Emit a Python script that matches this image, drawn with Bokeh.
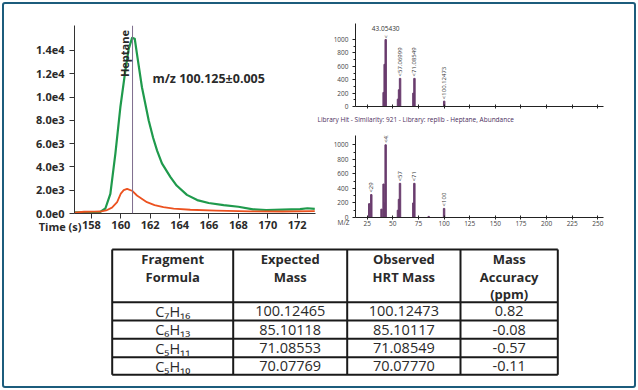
import math
from bokeh.plotting import figure
from bokeh.layouts import column, row
from bokeh.models import Range1d, Span, Label, LabelSet, FixedTicker, ColumnDataSource
from bokeh.core.properties import value
from bokeh.embed import file_html
from bokeh.resources import INLINE

# ---------------- data ----------------
time_green = [156.85, 157.5, 158.2, 158.6, 158.95, 159.29, 159.63, 159.97, 160.31, 160.54,
              160.77, 160.95, 161.1, 161.44, 161.9, 162.2, 162.47, 162.8, 163.37, 163.8,
              164.5, 165.2, 165.98, 167.0, 168.0, 169.0, 169.9, 171.0, 172.2, 172.7, 173.2]
green = [90, 100, 110, 140, 430, 1690, 5120, 9120, 12270, 14130,
         15080, 15000, 13700, 10840, 7980, 6500, 5400, 4300, 3150, 2400,
         1600, 1150, 900, 720, 580, 360, 300, 330, 370, 450, 400]
time_orange = [156.85, 157.5, 158.2, 158.6, 159.0, 159.4, 159.75, 160.0, 160.2, 160.43,
               160.8, 161.1, 161.78, 162.3, 162.9, 163.6, 164.73, 166.5, 168.8, 171.0, 173.2]
orange = [80, 150, 160, 170, 260, 500, 970, 1700, 2000, 2120,
          1930, 1545, 970, 720, 540, 420, 320, 240, 180, 170, 200]
peak_time = 160.8
peak_name = "Heptane"
ion_label = "m/z 100.125\u00b10.005"
time_label = "Time (s)"
chrom_yticks = [0, 2000, 4000, 6000, 8000, 10000, 12000, 14000]
chrom_ylabels = ["0.0e0", "2.0e3", "4.0e3", "6.0e3", "8.0e3", "1.0e4", "1.2e4", "1.4e4"]
chrom_xticks = [158, 160, 162, 164, 166, 168, 170, 172]

mz_hrt = [41.04, 42.05, 43.05, 55.05, 56.06, 57.07, 70.08, 71.09, 100.12]
ab_hrt = [210, 630, 1000, 110, 250, 420, 200, 420, 80]
hrt_label_mz = [57.06999, 71.08549, 100.12473]
hrt_label_ab = [420, 420, 80]
hrt_label_txt = ["<57.06999", "<71.08549", "<100.12473"]
hrt_base_mz = 43.05430
hrt_base_ab = 1000

mz_lib = [27, 29, 39, 41, 42, 43, 55, 56, 57, 70, 71, 85, 100]
ab_lib = [190, 315, 115, 460, 200, 1000, 100, 250, 470, 200, 470, 15, 125]
lib_label_mz = [29, 43, 57, 71, 100]
lib_label_ab = [315, 1000, 470, 470, 125]
lib_title = "Library Hit - Similarity: 921 - Library: replib - Heptane, Abundance"
mz_label = "M/Z"
spec_yticks = [0, 200, 400, 600, 800, 1000]
spec_xticks = [25, 50, 75, 100, 125, 150, 175, 200, 225, 250]

head_lines = [["Fragment", "Formula"], ["Expected", "Mass"], ["Observed", "HRT Mass"],
              ["Mass", "Accuracy", "(ppm)"]]
formulas = ["C\u2087H\u2081\u2086", "C\u2086H\u2081\u2083", "C\u2085H\u2081\u2081", "C\u2085H\u2081\u2080"]
expected = [100.12465, 85.10118, 71.08553, 70.07769]
observed = [100.12473, 85.10117, 71.08549, 70.07770]
accuracy = [0.82, -0.08, -0.57, -0.11]

# ---------------- styles ----------------
FONT = "Open Sans"
GREEN = "#1f9a4c"
ORANGE = "#ec5220"
PURPLE = "#6a3d6e"
TXT = "#2a2a2a"
W, H = 630, 382          # content size inside the frame
TOP_H = 231              # height of the chart row


def clear(p):
    p.outline_line_color = None
    p.grid.visible = False
    p.background_fill_color = None
    p.border_fill_color = None


# ---------------- chromatogram ----------------
chrom = figure(width=312, height=TOP_H, x_range=Range1d(156.85, 173.25), y_range=Range1d(0, 16140),
               output_backend="svg", toolbar_location=None,
               min_border_left=70, min_border_right=1, min_border_top=21, min_border_bottom=22)
clear(chrom)
chrom.line(time_green, green, line_color=GREEN, line_width=2.2, line_join="round")
chrom.line(time_orange, orange, line_color=ORANGE, line_width=1.8, line_join="round")
chrom.add_layout(Span(location=peak_time, dimension="height", line_color="#7d6d8d", line_width=1))
for ax in (chrom.xaxis[0], chrom.yaxis[0]):
    ax.major_label_text_font = FONT
    ax.major_label_text_font_style = "bold"
    ax.major_label_text_font_size = "11px"
    ax.major_label_text_color = TXT
    ax.axis_line_color = "#333333"
    ax.major_tick_line_color = "#333333"
    ax.minor_tick_line_color = None
    ax.major_tick_out = 5
    ax.major_tick_in = 0
chrom.yaxis[0].ticker = FixedTicker(ticks=chrom_yticks)
chrom.yaxis[0].major_label_overrides = dict(zip(chrom_yticks, chrom_ylabels))
chrom.yaxis[0].major_label_standoff = 5
chrom.xaxis[0].ticker = FixedTicker(ticks=chrom_xticks)
chrom.xaxis[0].major_label_standoff = 2
chrom.add_layout(Label(x=peak_time, y=15750, x_offset=-1, text=peak_name, angle=math.pi / 2,
                       text_align="right", text_baseline="bottom", text_font=FONT,
                       text_font_style="bold", text_font_size="11px", text_color=TXT))
chrom.add_layout(Label(x=162.15, y=11590, text=ion_label, text_align="left", text_baseline="middle",
                       text_font=FONT, text_font_style="bold", text_font_size="12.5px", text_color=TXT))


# ---------------- spectra ----------------
def spectrum(height, top, bottom, yend, show_xlabels):
    p = figure(width=318, height=height, x_range=Range1d(13.6, 255.5), y_range=Range1d(0, yend),
               output_backend="svg", toolbar_location=None,
               min_border_left=39, min_border_right=31, min_border_top=top, min_border_bottom=bottom)
    clear(p)
    for ax in (p.xaxis[0], p.yaxis[0]):
        ax.major_label_text_font = FONT
        ax.major_label_text_font_size = "6.5px"
        ax.major_label_text_color = "#444444"
        ax.axis_line_color = "#222222"
        ax.major_tick_line_color = "#222222"
        ax.minor_tick_line_color = "#222222"
        ax.major_tick_out = 3
        ax.major_tick_in = 0
        ax.minor_tick_out = 2
        ax.minor_tick_in = 0
    p.yaxis[0].ticker = FixedTicker(ticks=spec_yticks, minor_ticks=[100, 300, 500, 700, 900])
    p.yaxis[0].major_label_standoff = 4
    p.xaxis[0].ticker = FixedTicker(ticks=spec_xticks)
    p.xaxis[0].major_tick_in = 2
    p.xaxis[0].major_tick_out = 2
    p.xaxis[0].major_label_standoff = 1
    if not show_xlabels:
        p.xaxis[0].major_label_text_color = None
    return p


spec1 = spectrum(110, 19, 8, 1240, False)
spec1.vbar(x=mz_hrt, top=ab_hrt, width=1.4, color=PURPLE)
src1 = ColumnDataSource(dict(x=hrt_label_mz, y=hrt_label_ab, t=hrt_label_txt))
spec1.add_layout(LabelSet(x="x", y="y", text="t", source=src1, angle=math.pi / 2, y_offset=2,
                          text_align="left", text_baseline="middle", text_font=value(FONT),
                          text_font_size="6px", text_color="#333333"))
spec1.add_layout(Label(x=hrt_base_mz, y=hrt_base_ab, y_offset=1, text="<", angle=math.pi / 2,
                       text_align="left", text_baseline="middle", text_font=FONT,
                       text_font_size="6px", text_color="#333333"))
spec1.add_layout(Label(x=hrt_base_mz, y=hrt_base_ab, y_offset=9, text=f"{hrt_base_mz:.5f}",
                       text_align="center", text_baseline="bottom", text_font=FONT,
                       text_font_size="6.5px", text_color="#333333"))

spec2 = spectrum(TOP_H - 110, 21, 18, 1128, True)
spec2.vbar(x=mz_lib, top=ab_lib, width=1.4, color=PURPLE)
src2 = ColumnDataSource(dict(x=lib_label_mz, y=lib_label_ab, t=["<" + str(m) for m in lib_label_mz]))
spec2.add_layout(LabelSet(x="x", y="y", text="t", source=src2, angle=math.pi / 2, y_offset=2,
                          text_align="left", text_baseline="middle", text_font=value(FONT),
                          text_font_size="6px", text_color="#333333"))

# ---------------- free texts layer (pixel space of the whole panel) ----------------
overlay = figure(width=W, height=H, x_range=Range1d(0, W), y_range=Range1d(H, 0),
                 x_axis_type=None, y_axis_type=None, output_backend="svg", toolbar_location=None,
                 min_border=0, styles={"margin-bottom": f"-{H}px"})
clear(overlay)
overlay.add_layout(Label(x=77, y=222, text=time_label, text_align="right", text_baseline="middle",
                         text_font=FONT, text_font_style="bold", text_font_size="11px",
                         text_color=TXT))
overlay.add_layout(Label(x=345, y=217.5, text=mz_label, text_align="right", text_baseline="middle",
                         text_font=FONT, text_font_size="6.5px", text_color="#444444"))
overlay.add_layout(Label(x=313, y=115, text=lib_title, text_align="left", text_baseline="middle",
                         text_font=FONT, text_font_size="6.5px", text_color="#4b2e5c"))

# ---------------- table ----------------
col_edges = [107.7, 228.7, 342.7, 456.0, 553.3]
row_edges = [14.0, 66.7, 85.0, 103.3, 121.7, 139.3]
head_line_y = [23.0, 41.0, 58.5]
TAB_H = H - TOP_H

table = figure(width=W, height=TAB_H, x_range=Range1d(0, W), y_range=Range1d(TAB_H, 0),
               x_axis_type=None, y_axis_type=None, output_backend="svg", toolbar_location=None,
               min_border=0)
clear(table)
table.segment(x0=col_edges, y0=[row_edges[0]] * len(col_edges), x1=col_edges,
              y1=[row_edges[-1]] * len(col_edges), line_color="#1a1a1a", line_width=2)
table.segment(x0=[col_edges[0]] * len(row_edges), y0=row_edges, x1=[col_edges[-1]] * len(row_edges),
              y1=row_edges, line_color="#1a1a1a", line_width=2)

centers = [(col_edges[i] + col_edges[i + 1]) / 2 for i in range(4)]
hx, hy, ht = [], [], []
for i, lines in enumerate(head_lines):
    for j, t in enumerate(lines):
        hx.append(centers[i]); hy.append(head_line_y[j]); ht.append(t)
table.text(x=hx, y=hy, text=ht, text_align="center", text_baseline="middle", text_font=value(FONT),
           text_font_style="bold", text_font_size="13px", text_color=TXT)

cells = [formulas, [f"{v:.5f}" for v in expected], [f"{v:.5f}" for v in observed],
         [f"{v:.2f}" for v in accuracy]]
dx, dy, dt = [], [], []
for i, col in enumerate(cells):
    for r, t in enumerate(col):
        dx.append(centers[i]); dy.append((row_edges[r + 1] + row_edges[r + 2]) / 2); dt.append(t)
table.text(x=dx, y=dy, text=dt, text_align="center", text_baseline="middle", text_font=value(FONT),
           text_font_size="14.5px", text_color=TXT)

# ---------------- layout ----------------
layout = column(overlay, row(chrom, column(spec1, spec2, spacing=0), spacing=0), table, spacing=0,
                styles={"border": "2px solid #1c5c7c", "border-radius": "3px",
                        "background-color": "white", "margin-left": "2px", "margin-top": "2px"})

open("out.html", "w").write(file_html(layout, INLINE))
